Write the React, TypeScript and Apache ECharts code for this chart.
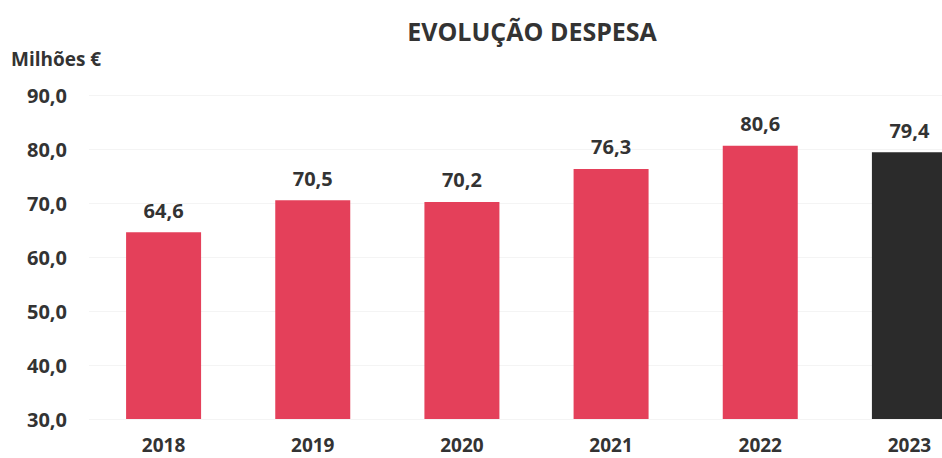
import React, { useEffect, useRef } from "react";
import * as echarts from "echarts";

const categories = ["2018", "2019", "2020", "2021", "2022", "2023"];
const values = [64.6, 70.5, 70.2, 76.3, 80.6, 79.4];
const barColors = ["#e4405a", "#e4405a", "#e4405a", "#e4405a", "#e4405a", "#2b2b2b"];
const titleText = "EVOLUÇÃO DESPESA";
const unitText = "Milhões €";

const fmt = (v: number) => v.toFixed(1).replace(".", ",");

export default function App() {
  const ref = useRef<HTMLDivElement>(null);
  useEffect(() => {
    if (!ref.current) return;
    const chart = echarts.init(ref.current, undefined, { renderer: "svg" });
    const font = "'Open Sans', sans-serif";
    chart.setOption({
      animation: false,
      backgroundColor: "#ffffff",
      title: {
        text: titleText,
        left: 527,
        textAlign: "center",
        top: 13,
        textStyle: { fontFamily: font, fontWeight: "bold", fontSize: 25, color: "#333333" },
      },
      graphic: [
        {
          type: "text",
          left: 11,
          top: 49,
          style: { text: unitText, fontFamily: font, fontWeight: "bold", fontSize: 19, fill: "#333333" },
        },
      ],
      grid: { left: 89, right: 0, top: 95, bottom: 39, containLabel: false },
      xAxis: {
        type: "category",
        data: categories,
        axisLine: { show: false },
        axisTick: { show: false },
        axisLabel: { margin: 16, fontFamily: font, fontWeight: "bold", fontSize: 19, color: "#333333" },
      },
      yAxis: {
        type: "value",
        min: 30,
        max: 90,
        interval: 10,
        axisLine: { show: false },
        axisTick: { show: false },
        splitLine: { show: true, lineStyle: { color: "#f4f4f4", width: 1 } },
        axisLabel: {
          margin: 22,
          formatter: (v: number) => fmt(v),
          fontFamily: font,
          fontWeight: "bold",
          fontSize: 20,
          color: "#333333",
        },
      },
      series: [
        {
          type: "bar",
          barWidth: 75,
          data: values.map((v, i) => ({ value: v, itemStyle: { color: barColors[i] } })),
          label: {
            show: true,
            position: "top",
            distance: 12,
            formatter: (p: any) => fmt(p.value),
            fontFamily: font,
            fontWeight: "bold",
            fontSize: 20,
            color: "#333333",
          },
        },
      ],
    });
    return () => chart.dispose();
  }, []);
  return (
    <div style={{ position: "fixed", left: 0, top: 0, width: 942, height: 458, overflow: "hidden", background: "#fff" }}>
      <div ref={ref} style={{ width: 984, height: 458 }} />
    </div>
  );
}
